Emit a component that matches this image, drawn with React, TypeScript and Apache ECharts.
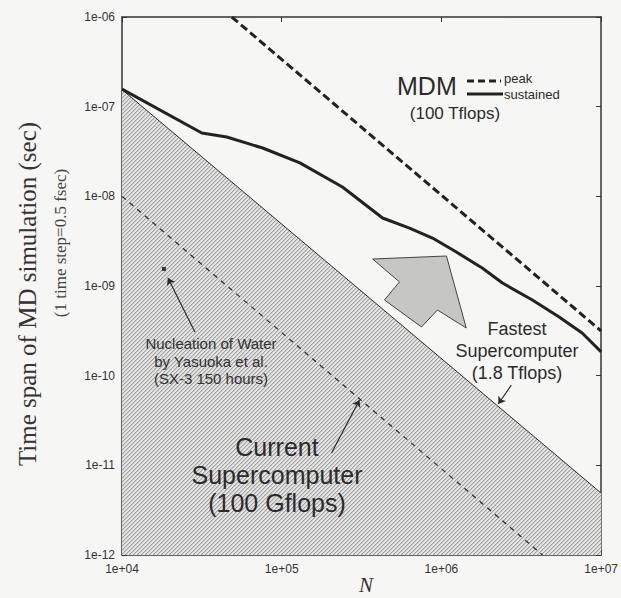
import React, { useEffect, useRef } from 'react';
import * as echarts from 'echarts';

// ---- data ----
const X_MIN = 1e4;
const X_MAX = 1e7;
const Y_MIN = 1e-12;
const Y_MAX = 1e-6;

// MDM sustained (thick solid)
const SUSTAINED_N = [1e4, 3.16e4, 4.53e4, 7.6e4, 1.3e5, 2.4e5, 4.28e5, 6.31e5, 8.79e5, 1.24e6, 1.8e6, 2.41e6, 3.71e6, 5.46e6, 7.6e6, 1e7];
const SUSTAINED_T = [1.57e-7, 5.08e-8, 4.59e-8, 3.46e-8, 2.36e-8, 1.27e-8, 5.73e-9, 4.43e-9, 3.43e-9, 2.39e-9, 1.59e-9, 1.08e-9, 6.98e-10, 4.51e-10, 2.99e-10, 1.84e-10];

// MDM peak (thick dashed)
const PEAK_N = [4.87e4, 1e7];
const PEAK_T = [1e-6, 3.15e-10];

// Fastest supercomputer 1.8 Tflops (thin solid, hatched below)
const FASTEST_N = [1e4, 1e7];
const FASTEST_T = [1.55e-7, 4.9e-12];

// Current supercomputer 100 Gflops (thin dashed)
const CURRENT_N = [1e4, 4.3e6];
const CURRENT_T = [1e-8, 1e-12];

// Nucleation of water point
const NUCLEATION_N = [1.83e4];
const NUCLEATION_T = [1.55e-9];

// pointer arrows [fromN, fromT, toN, toT]
const POINTERS = [
  [2.86e4, 3.07e-10, 1.94e4, 1.23e-9],
  [2.74e6, 7.87e-11, 2.27e6, 4.83e-11],
  [2.05e5, 1.37e-11, 3.07e5, 5.36e-11],
];

// big grey arrow outline (data coordinates)
const ARROW_N = [1.075e6, 1.43e6, 9.44e5, 7.5e5, 4.4e5, 5.46e5, 3.71e5];
const ARROW_T = [2.16e-9, 3.4e-10, 5.4e-10, 3.49e-10, 6.98e-10, 1.11e-9, 2.0e-9];

const zip = (a: number[], b: number[]) => a.map((v, i) => [v, b[i]]);

const fmt = (v: number) => {
  const e = Math.round(Math.log10(v));
  return '1e' + (e < 0 ? '-' : '+') + String(Math.abs(e)).padStart(2, '0');
};

const SANS = '"Liberation Sans", Arial, sans-serif';
const SERIF = '"Liberation Serif", "Times New Roman", serif';
const INK = '#2b2b2b';

function makeHatch() {
  const c = document.createElement('canvas');
  c.width = 4;
  c.height = 4;
  const ctx = c.getContext('2d')!;
  ctx.fillStyle = '#e4e4e2';
  ctx.fillRect(0, 0, 4, 4);
  ctx.fillStyle = '#a2a2a2';
  for (let i = 0; i < 4; i++) ctx.fillRect(i, 3 - i, 1, 1);
  ctx.fillStyle = '#cacaca';
  for (let i = 0; i < 4; i++) ctx.fillRect((i + 1) % 4, 3 - i, 1, 1);
  return c;
}

export default function App() {
  const ref = useRef<HTMLDivElement>(null);
  useEffect(() => {
    if (!ref.current) return;
    const chart = echarts.init(ref.current, undefined, { renderer: 'svg' });
    const hatch = makeHatch();

    const axisLine = { lineStyle: { color: '#333', width: 1.5 } };
    const tick = { inside: true, length: 5, lineStyle: { color: '#333', width: 1 } };
    const xBase: any = { type: 'log', logBase: 10, min: X_MIN, max: X_MAX, splitLine: { show: false }, axisLine, axisTick: tick };
    const yBase: any = { type: 'log', logBase: 10, min: Y_MIN, max: Y_MAX, splitLine: { show: false }, axisLine, axisTick: tick };

    const T = (x: number, y: number, text: string, style: any, extra: any = {}) => ({
      type: 'text', x, y, z: 100, ...extra,
      style: { text, fontFamily: SANS, fill: INK, align: 'center', verticalAlign: 'middle', ...style },
    });

    const option: any = {
      animation: false,
      backgroundColor: '#f6f6f4',
      grid: { left: 122, right: 19, top: 17, bottom: 43 },
      xAxis: [
        { ...xBase, position: 'bottom', axisLabel: { formatter: fmt, color: '#333', fontSize: 12, fontFamily: SANS, margin: 8 } },
        { ...xBase, position: 'top', axisLabel: { show: false } },
      ],
      yAxis: [
        { ...yBase, position: 'left', axisLabel: { formatter: fmt, color: '#333', fontSize: 12, fontFamily: SANS, margin: 7 } },
        { ...yBase, position: 'right', axisLabel: { show: false } },
      ],
      series: [
        {
          type: 'line', data: zip(FASTEST_N, FASTEST_T), showSymbol: false, z: 1,
          lineStyle: { color: INK, width: 1 },
          areaStyle: { origin: 'start', color: { image: hatch, repeat: 'repeat' }, opacity: 1 },
        },
        {
          type: 'line', data: zip(CURRENT_N, CURRENT_T), showSymbol: false, z: 3,
          lineStyle: { color: INK, width: 1.2, type: [5, 5] },
        },
        {
          type: 'line', data: zip(PEAK_N, PEAK_T), showSymbol: false, z: 3,
          lineStyle: { color: '#222', width: 3, type: [8, 4] },
        },
        {
          type: 'line', data: zip(SUSTAINED_N, SUSTAINED_T), showSymbol: false, z: 3,
          lineStyle: { color: '#222', width: 3 },
        },
        {
          type: 'scatter', data: zip(NUCLEATION_N, NUCLEATION_T), symbol: 'rect', symbolSize: 4, z: 4,
          itemStyle: { color: '#111' },
        },
        {
          type: 'lines', coordinateSystem: 'cartesian2d', z: 4,
          symbol: ['none', 'arrow'], symbolSize: 7,
          lineStyle: { color: INK, width: 1.2, opacity: 1 },
          data: POINTERS.map((p) => ({ coords: [[p[0], p[1]], [p[2], p[3]]] })),
        },
        {
          type: 'custom', z: 4,
          data: [[ARROW_N[0], ARROW_T[0]]],
          renderItem: (_params: any, api: any) => ({
            type: 'polygon',
            shape: { points: ARROW_N.map((n, i) => api.coord([n, ARROW_T[i]])) },
            style: { fill: '#c6c6c4', stroke: '#444', lineWidth: 1 },
          }),
        },
      ],
      graphic: [
        T(27, 294, 'Time span of MD simulation (sec)', { fontSize: 25, fontFamily: SERIF, fill: '#333' }, { rotation: Math.PI / 2 }),
        T(60, 243, '(1 time step=0.5 fsec)', { fontSize: 17, fontFamily: SERIF, fill: '#444' }, { rotation: Math.PI / 2 }),
        T(366, 585, 'N', { fontSize: 21, fontStyle: 'italic', fontFamily: SERIF, fill: '#333' }),
        // legend
        T(397, 86, 'MDM', { fontSize: 25, align: 'left' }),
        { type: 'line', z: 100, shape: { x1: 467, y1: 81, x2: 501, y2: 81 }, style: { stroke: '#222', lineWidth: 3, lineDash: [7, 4] } },
        { type: 'line', z: 100, shape: { x1: 467, y1: 94, x2: 503, y2: 94 }, style: { stroke: '#222', lineWidth: 3 } },
        T(504, 78, 'peak', { fontSize: 13, align: 'left' }),
        T(504, 94, 'sustained', { fontSize: 13, align: 'left' }),
        T(455, 113, '(100 Tflops)', { fontSize: 17 }),
        // annotations
        T(517, 351, 'Fastest\nSupercomputer\n(1.8 Tflops)', { fontSize: 18, lineHeight: 22 }),
        T(277, 475, 'Current\nSupercomputer\n(100 Gflops)', { fontSize: 25, lineHeight: 28 }),
        T(211, 361, 'Nucleation of Water\nby Yasuoka et al.\n(SX-3 150 hours)', { fontSize: 15, lineHeight: 17.5, fill: '#333' }),
      ],
    };
    chart.setOption(option);
    return () => chart.dispose();
  }, []);
  return <div ref={ref} style={{ position: 'fixed', left: 0, top: 0, width: 621, height: 598 }} />;
}
